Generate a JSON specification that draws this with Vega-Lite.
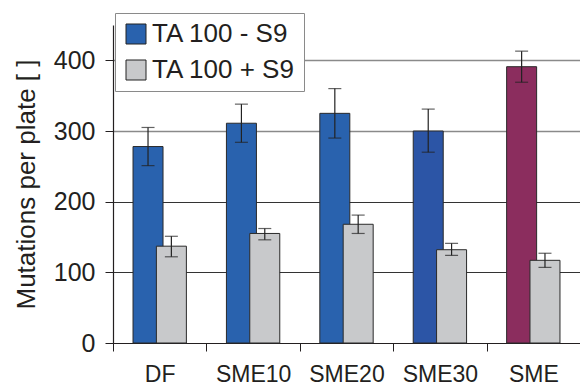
{
  "$schema": "https://vega.github.io/schema/vega-lite/v6.json",
  "autosize": {"type": "none"},
  "padding": {"left": 113, "top": 25, "right": 0, "bottom": 46},
  "width": 467,
  "height": 318,
  "background": "white",
  "config": {
    "view": {"stroke": null},
    "font": "Liberation Sans",
    "axis": {"labelFont": "Liberation Sans", "titleFont": "Liberation Sans", "labelColor": "#231f20", "titleColor": "#231f20"}
  },
  "data": {
    "values": [
      {"sample": "DF", "series": "TA 100 - S9", "group": "TA 100 - S9", "value": 278, "lo": 251, "hi": 305},
      {"sample": "SME10", "series": "TA 100 - S9", "group": "TA 100 - S9", "value": 311, "lo": 284, "hi": 338},
      {"sample": "SME20", "series": "TA 100 - S9", "group": "TA 100 - S9", "value": 325, "lo": 290, "hi": 360},
      {"sample": "SME30", "series": "TA 100 - S9", "group": "SME30 - S9", "value": 300, "lo": 270, "hi": 331},
      {"sample": "SME", "series": "TA 100 - S9", "group": "SME - S9", "value": 391, "lo": 369, "hi": 413},
      {"sample": "DF", "series": "TA 100 + S9", "group": "TA 100 + S9", "value": 137, "lo": 122, "hi": 151},
      {"sample": "SME10", "series": "TA 100 + S9", "group": "TA 100 + S9", "value": 155, "lo": 146, "hi": 162},
      {"sample": "SME20", "series": "TA 100 + S9", "group": "TA 100 + S9", "value": 168, "lo": 155, "hi": 181},
      {"sample": "SME30", "series": "TA 100 + S9", "group": "TA 100 + S9", "value": 132, "lo": 124, "hi": 141},
      {"sample": "SME", "series": "TA 100 + S9", "group": "TA 100 + S9", "value": 117, "lo": 107, "hi": 127}
    ]
  },
  "encoding": {
    "x": {
      "field": "sample",
      "type": "nominal",
      "sort": ["DF", "SME10", "SME20", "SME30", "SME"],
      "scale": {"paddingInner": 0, "paddingOuter": 0},
      "axis": {
        "title": null,
        "labelAngle": 0,
        "labelFontSize": 23,
        "labelPadding": 12,
        "tickBand": "extent",
        "tickSize": 8,
        "tickColor": "#231f20",
        "domainColor": "#231f20",
        "domainWidth": 1.2,
        "grid": false
      }
    },
    "xOffset": {
      "field": "series",
      "type": "nominal",
      "sort": ["TA 100 - S9", "TA 100 + S9"],
      "scale": {"paddingInner": 0, "paddingOuter": 1.594}
    }
  },
  "layer": [
    {
      "mark": {"type": "bar", "width": 30, "stroke": "#2a2a2a", "strokeWidth": 1},
      "encoding": {
        "y": {
          "field": "value",
          "type": "quantitative",
          "scale": {"domain": [0, 450], "nice": false},
          "axis": {
            "title": "Mutations per plate [ ]",
            "titleFontSize": 26,
            "titleFontWeight": "normal",
            "titlePadding": 14,
            "values": [0, 100, 200, 300, 400],
            "labelFontSize": 25,
            "labelPadding": 10,
            "tickSize": 8,
            "tickColor": "#231f20",
            "domainColor": "#231f20",
            "domainWidth": 1.2,
            "grid": true,
            "gridColor": {"condition": {"test": "datum.value >= 300", "value": "#8a8a8a"}, "value": "#333333"},
            "gridWidth": {"condition": {"test": "datum.value >= 300", "value": 1.5}, "value": 1}
          }
        },
        "color": {
          "field": "group",
          "type": "nominal",
          "scale": {
            "domain": ["TA 100 - S9", "TA 100 + S9", "SME30 - S9", "SME - S9"],
            "range": ["#2962ae", "#c8c9cb", "#2c55a6", "#8b2d5e"]
          },
          "legend": {
            "values": ["TA 100 - S9", "TA 100 + S9"],
            "title": null,
            "orient": "none",
            "legendX": 2,
            "legendY": -12,
            "symbolType": "square",
            "symbolSize": 400,
            "symbolStrokeColor": "#222222",
            "symbolStrokeWidth": 1,
            "labelFontSize": 26,
            "labelFont": "Liberation Sans",
            "labelColor": "#231f20",
            "labelOffset": 3,
            "rowPadding": 10,
            "padding": 8,
            "strokeColor": "#8a8a8a",
            "fillColor": "white"
          }
        }
      }
    },
    {
      "mark": {"type": "rule", "color": "#222222", "strokeWidth": 1.2},
      "encoding": {
        "y": {"field": "lo", "type": "quantitative"},
        "y2": {"field": "hi"}
      }
    },
    {
      "mark": {"type": "tick", "color": "#222222", "thickness": 1.2, "size": 13},
      "encoding": {"y": {"field": "lo", "type": "quantitative"}}
    },
    {
      "mark": {"type": "tick", "color": "#222222", "thickness": 1.2, "size": 13},
      "encoding": {"y": {"field": "hi", "type": "quantitative"}}
    }
  ]
}
